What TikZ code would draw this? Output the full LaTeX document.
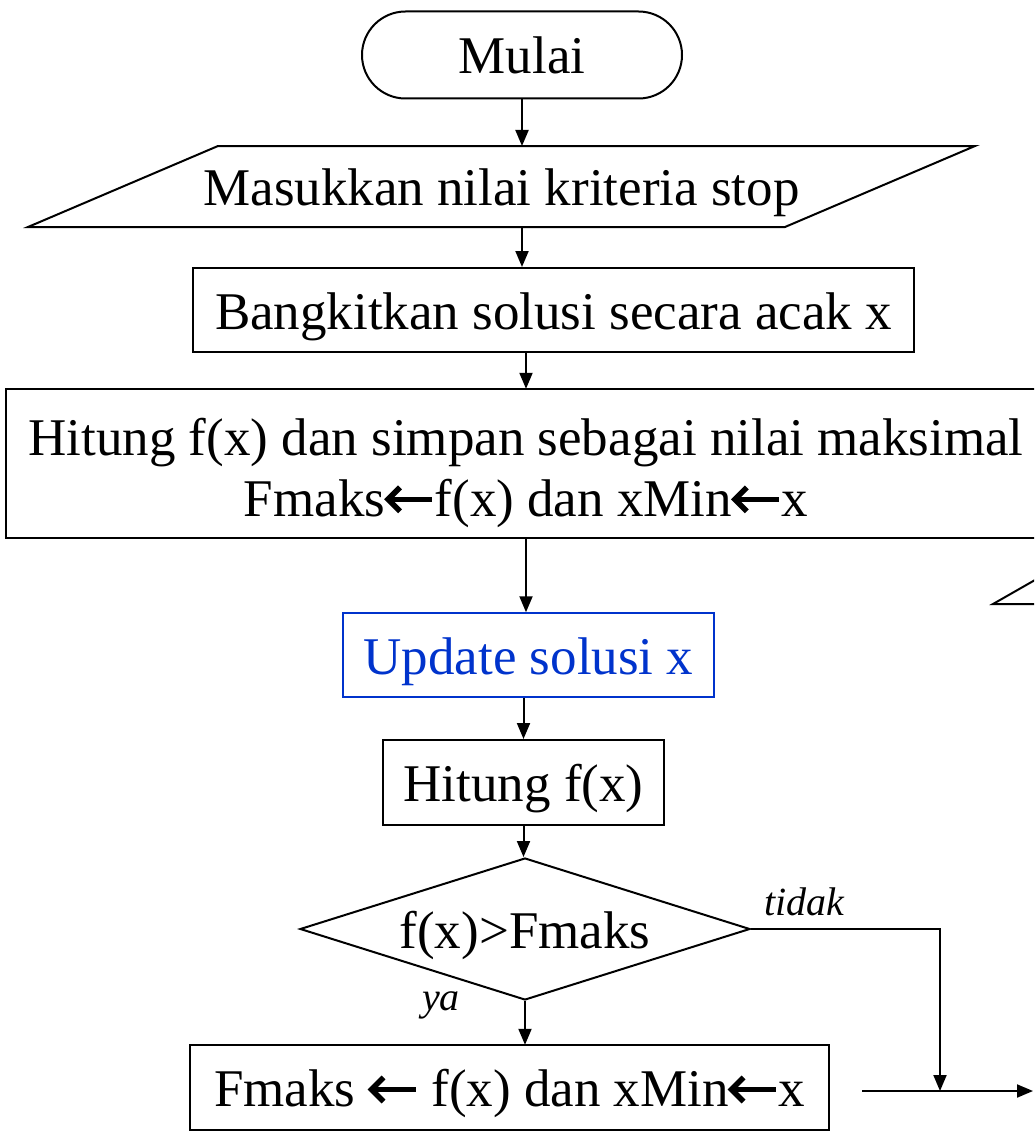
\documentclass[tikz,border=0pt]{standalone}
\usepackage{fontspec}
\setmainfont{Liberation Serif}
\usetikzlibrary{arrows.meta,%
                shapes,positioning}
\definecolor{biru}{RGB}{0,51,204}
\newcommand{\kiriarr}{\tikz[baseline=0pt,x=1pt,y=1pt,line width=5.5pt]{%
  \path (0,0) (46,0);
  \draw[line join=miter] (14,29)--(2,17)--(14,5); \draw (4,17)--(46,17);}}

\begin{document}
\begin{tikzpicture}[x=1pt,y=-1pt,line width=2pt,
  every node/.style={font=\fontsize{53}{61}\selectfont,inner sep=0pt},
  satu/.style={text height=46pt,text depth=8pt},
  kotak/.style={draw,rectangle,align=center},
  panah/.style={-{Triangle[length=16pt,width=13pt]}},
  ket/.style={font=\fontsize{40}{46}\selectfont\itshape}]
\path[use as bounding box,clip] (0,0) rectangle (1034,1137);
%\draw[help lines] (0,0) grid[step=100] (1034,1137);
\node[draw,satu,rounded rectangle,minimum width=320pt,minimum height=87pt] (mulai) at (522,55) {Mulai};
\node[satu] (input) at (501.5,186.5) {Masukkan nilai kriteria stop};
\draw (218,146) -- (975,146) -- (785,227) -- (28,227) -- cycle;
\coordinate (inatas) at (522,146);
\coordinate (inbawah) at (522,227);
\node[kotak,satu,minimum width=721pt,minimum height=84pt] (acak) at (553.5,310) {Bangkitkan solusi secara acak x};
\node[kotak,text height=117pt,minimum width=1040pt,minimum height=149pt] (awal) at (526,463.5)
  {Hitung f(x) dan simpan sebagai nilai maksimal\\Fmaks\kiriarr f(x) dan xMin\kiriarr x};
\node[kotak,satu,draw=biru,text=biru,line width=1.5pt,minimum width=371pt,minimum height=84pt] (update) at (528.5,655) {Update solusi x};
\node[kotak,satu,minimum width=281pt,minimum height=85pt] (hitung) at (523.5,782.5) {Hitung f(x)};
\node[draw,satu,diamond,aspect=3.17,minimum width=450pt,minimum height=142pt] (cek) at (525,929) {f(x)>Fmaks};
\node[kotak,satu,minimum width=639pt,minimum height=85pt] (simpan) at (509.5,1087.5) {Fmaks \kiriarr{} f(x) dan xMin\kiriarr x};
\node[ket] (tidak) at (804,902) {tidak};
\node[ket] (ya) at (441,1005) {ya};
\coordinate (gabung) at (940,1091);
\coordinate (kiri) at (862,1091);
\coordinate (kanan) at (1033,1091);
% potongan bentuk di tepi kanan
\draw (1080,604) -- (993,604) -- (1063,564);
\draw[panah] (mulai.south) -- (inatas);
\draw[panah] (inbawah) -- (inbawah |- acak.north);
\draw[panah] (awal.north |- acak.south) -- (awal.north);
\draw[panah] (awal.south) -- (awal.south |- update.north);
\draw[panah] (hitung.north |- update.south) -- (hitung.north);
\draw[panah] (hitung.south) -- (hitung.south |- cek.north);
\draw[panah] (cek.south) -- (cek.south |- simpan.north);
\draw[panah] (cek.east) -| (gabung);
\draw[panah] (kiri) -- (kanan);
\end{tikzpicture}
\end{document}
